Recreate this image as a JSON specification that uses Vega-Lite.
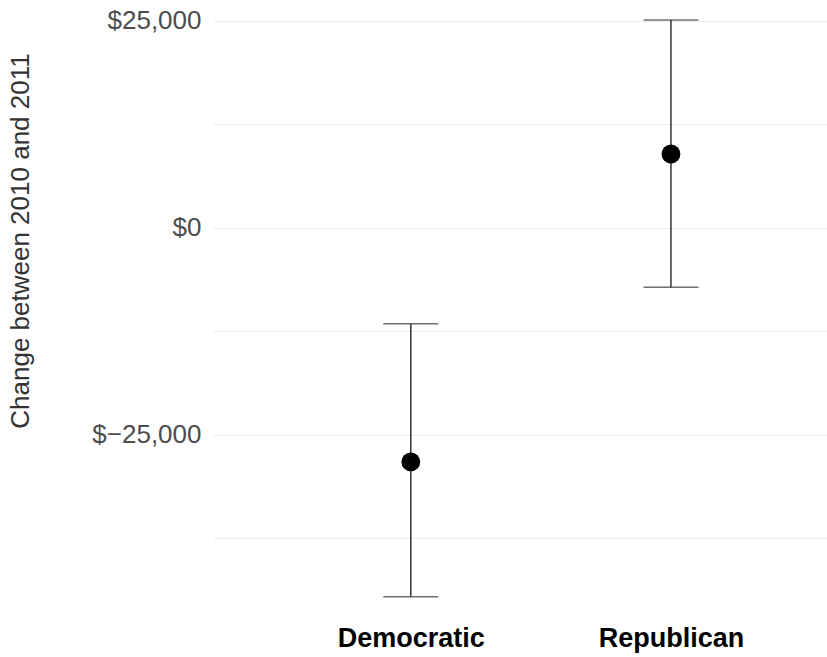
{
  "$schema": "https://vega.github.io/schema/vega-lite/v6.json",
  "width": 614,
  "height": 600,
  "autosize": {"type": "none"},
  "padding": {"left": 213, "top": 15, "right": 0, "bottom": 42},
  "background": "white",
  "config": {
    "view": {"stroke": null},
    "font": "Liberation Sans"
  },
  "data": {
    "values": [
      {"party": "Democratic", "estimate": -28300, "lo": -44600, "hi": -11600},
      {"party": "Republican", "estimate": 8900, "lo": -7200, "hi": 25100}
    ]
  },
  "encoding": {
    "x": {
      "field": "party",
      "type": "nominal",
      "scale": {"type": "point", "padding": 0.68, "align": 0.559},
      "axis": {
        "title": null,
        "domain": false,
        "ticks": false,
        "grid": false,
        "labelAngle": 0,
        "labelFontSize": 27,
        "labelFontWeight": "bold",
        "labelColor": "#000000",
        "labelPadding": 10
      }
    }
  },
  "layer": [
    {
      "mark": {"type": "rule", "color": "#333333", "strokeWidth": 1.5},
      "encoding": {
        "y": {
          "field": "lo",
          "type": "quantitative",
          "scale": {"domain": [-46800, 25700], "nice": false, "zero": false},
          "axis": {
            "title": "Change between 2010 and 2011",
            "titleFontSize": 26,
            "titleFontWeight": "normal",
            "titleColor": "#333333",
            "titleX": -180,
            "titleY": 225.5,
            "values": [-37500, -25000, -12500, 0, 12500, 25000],
            "labelExpr": "datum.value % 25000 == 0 ? (datum.value < 0 ? '$−' + format(-datum.value, ',') : '$' + format(datum.value, ',')) : ''",
            "labelFontSize": 26,
            "labelColor": "#4d4d4d",
            "labelPadding": 12,
            "domain": false,
            "ticks": false,
            "gridColor": "#ebebeb",
            "gridWidth": 1.2
          }
        },
        "y2": {"field": "hi"}
      }
    },
    {
      "mark": {"type": "tick", "color": "#333333", "thickness": 1.5, "size": 55},
      "encoding": {"y": {"field": "lo", "type": "quantitative"}}
    },
    {
      "mark": {"type": "tick", "color": "#333333", "thickness": 1.5, "size": 55},
      "encoding": {"y": {"field": "hi", "type": "quantitative"}}
    },
    {
      "mark": {"type": "point", "filled": true, "shape": "circle", "color": "#000000", "opacity": 1, "size": 356},
      "encoding": {"y": {"field": "estimate", "type": "quantitative"}}
    }
  ]
}
